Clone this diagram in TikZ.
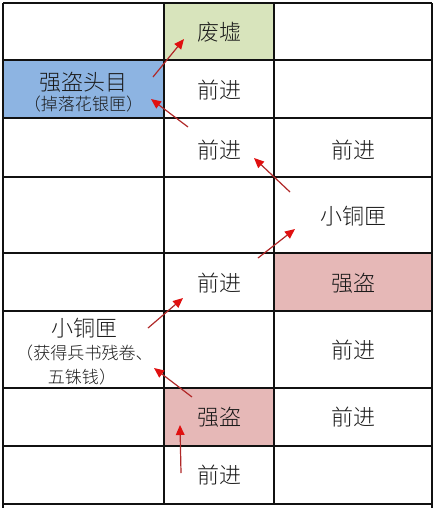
\documentclass[tikz,border=0pt]{standalone}
\usepackage{fontspec}
\newfontfamily\cjk{Noto Sans CJK SC Light}
\usetikzlibrary{arrows.meta}
\definecolor{gridline}{HTML}{111111}
\definecolor{greenfill}{HTML}{D8E4BC}
\definecolor{bluefill}{HTML}{8DB4E2}
\definecolor{redfill}{HTML}{E6B8B7}
\definecolor{arrowline}{HTML}{B02828}
\definecolor{arrowhead}{HTML}{E01010}
\definecolor{txt}{HTML}{1A1A1A}
\tikzset{
  big/.style={font=\cjk\fontsize{16.5}{18}\selectfont, text=txt, inner sep=0pt},
  small/.style={font=\cjk\fontsize{12.8}{14}\selectfont, text=txt, inner sep=0pt},
  gridln/.style={draw=gridline, line width=0.9pt},
  movearrow/.style={draw=arrowline, line width=0.9pt,
    -{Triangle[length=7.5pt,width=6.5pt,color=arrowhead]}}
}
\begin{document}
\begin{tikzpicture}[x=0.75pt,y=-0.75pt]
\useasboundingbox (0,0) rectangle (435,508);
\fill[white] (0,0) rectangle (435,508);
% fills
\fill[greenfill] (164,3) rectangle (274,60);
\fill[bluefill] (3,60) rectangle (164,118);
\fill[redfill] (274,253) rectangle (432,311);
\fill[redfill] (164,388) rectangle (274,446);
% grid
\foreach \yy in {3,60,118,177,253,311,388,446,504}
  \draw[gridln] (3,\yy) -- (432,\yy);
\draw[gridln] (3,3) -- (3,508);
\draw[gridln] (432,3) -- (432,508);
\draw[gridln] (164,3) -- (164,504);
\draw[gridln] (274,3) -- (274,504);
% texts
\node[big] (fx) at (219,32) {废墟};
\node[big] (boss) at (83.5,82) {强盗头目};
\node[small] (bossdrop) at (83.5,104) {（掉落花银匣）};
\node[big] (r2c2) at (219,90) {前进};
\node[big] (r3c2) at (219,150) {前进};
\node[big] (r3c3) at (353,150) {前进};
\node[big] (box1) at (353,216) {小铜匣};
\node[big] (r5c2) at (219,283) {前进};
\node[big] (bandit1) at (353,283) {强盗};
\node[big] (box2) at (84,328) {小铜匣};
\node[small] (box2a) at (84.5,353) {（获得兵书残卷、};
\node[small] (box2b) at (82,377) {五铢钱）};
\node[big] (r6c3) at (353,350) {前进};
\node[big] (bandit2) at (219,417) {强盗};
\node[big] (r7c3) at (353,417) {前进};
\node[big] (r8c2) at (219,475) {前进};
% arrow endpoints
\coordinate (a7s) at (181,473); \coordinate (a7e) at (180,425);
\coordinate (a6s) at (192,397); \coordinate (a6e) at (154,368);
\coordinate (a5s) at (148,328); \coordinate (a5e) at (183,298);
\coordinate (a4s) at (258,258); \coordinate (a4e) at (295,229);
\coordinate (a3s) at (290,192); \coordinate (a3e) at (254,158);
\coordinate (a2s) at (188,127); \coordinate (a2e) at (151,99);
\coordinate (a1s) at (153,77);  \coordinate (a1e) at (184,39);
\foreach \i in {1,...,7}
  \draw[movearrow] (a\i s) -- (a\i e);
\end{tikzpicture}
\end{document}
